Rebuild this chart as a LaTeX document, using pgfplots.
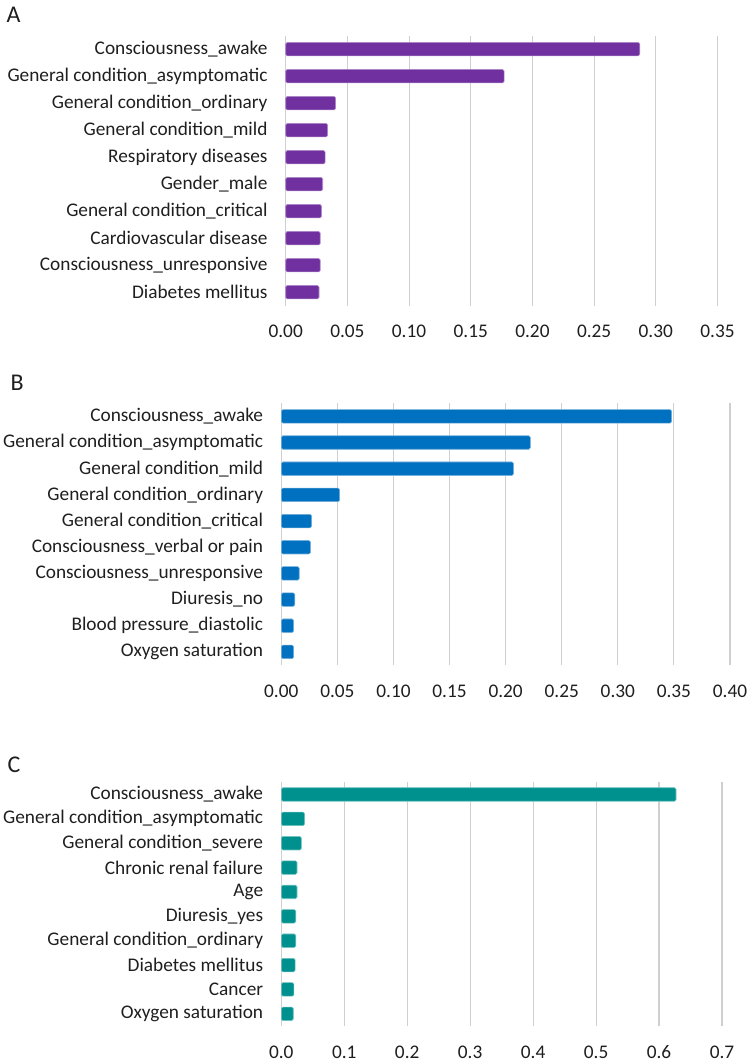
\documentclass[border=0pt]{standalone}
\usepackage{fontspec}
\setmainfont{Carlito}
\usepackage{pgfplots}
\pgfplotsset{compat=1.18}

\definecolor{barA}{HTML}{7030A0}
\definecolor{barB}{HTML}{0070C0}
\definecolor{barC}{HTML}{00918F}
\definecolor{gridc}{HTML}{CFCFCF}

\pgfplotsset{
  imp/.style={
    scale only axis, anchor=south west,
    xbar, bar width=13.5pt,
    ymin=-0.5, ymax=9.5, ytick={0,...,9},
    xmin=0, xmajorgrids, grid style={draw=gridc, line width=1.1pt},
    axis line style={draw=none}, major tick length=0pt,
    tick label style={font=\fontsize{19.3}{23}\selectfont, text=black!88},
    yticklabel style={anchor=east, inner sep=0pt, xshift=-18pt},
    xticklabel style={anchor=center, inner sep=0pt, yshift=-26pt},
    /pgf/number format/assume math mode=true,
    /pgf/number format/fixed, /pgf/number format/fixed zerofill,
    clip=false,
  }
}

\begin{document}
\begin{tikzpicture}
\useasboundingbox (0,0) rectangle (749pt,1062pt);

% A
\begin{axis}[imp, at={(285.7pt,756.3pt)}, width=431.8pt, height=270pt,
  xmax=0.35, xtick={0,0.05,0.10,0.15,0.20,0.25,0.30,0.35},
  /pgf/number format/precision=2,
  yticklabels={Diabetes mellitus, Consciousness\_unresponsive, Cardiovascular disease,
    General condition\_critical, Gender\_male, Respiratory diseases,
    General condition\_mild, General condition\_ordinary,
    General condition\_asymptomatic\hspace{5pt}, Consciousness\_awake}]
\addplot[fill=barA, draw=barA!55!white, line width=0.6pt, rounded corners=1.5pt]
  coordinates {(0.027,0) (0.028,1) (0.028,2) (0.029,3) (0.030,4) (0.032,5)
               (0.034,6) (0.0405,7) (0.177,8) (0.287,9)};
\end{axis}

% B
\begin{axis}[imp, at={(281.3pt,397pt)}, width=448.7pt, height=261.7pt,
  xmax=0.40, xtick={0,0.05,0.10,0.15,0.20,0.25,0.30,0.35,0.40},
  /pgf/number format/precision=2,
  yticklabels={Oxygen saturation, Blood pressure\_diastolic, Diuresis\_no,
    Consciousness\_unresponsive, Consciousness\_verbal or pain,
    General condition\_critical, General condition\_ordinary,
    General condition\_mild, General condition\_asymptomatic, Consciousness\_awake}]
\addplot[fill=barB, draw=barB!55!white, line width=0.6pt, rounded corners=1.5pt]
  coordinates {(0.011,0) (0.011,1) (0.012,2) (0.016,3) (0.026,4) (0.027,5)
               (0.052,6) (0.207,7) (0.222,8) (0.348,9)};
\end{axis}

% C
\begin{axis}[imp, at={(281.3pt,36pt)}, width=440.7pt, height=243.7pt,
  xmax=0.7, xtick={0,0.1,0.2,0.3,0.4,0.5,0.6,0.7},
  /pgf/number format/precision=1,
  yticklabels={Oxygen saturation, Cancer, Diabetes mellitus,
    General condition\_ordinary, Diuresis\_yes, Age, Chronic renal failure,
    General condition\_severe, General condition\_asymptomatic, Consciousness\_awake}]
\addplot[fill=barC, draw=barC!55!white, line width=0.6pt, rounded corners=1.5pt]
  coordinates {(0.019,0) (0.020,1) (0.022,2) (0.023,3) (0.023,4) (0.025,5)
               (0.025,6) (0.032,7) (0.037,8) (0.627,9)};
\end{axis}

\node[anchor=west, font=\fontsize{24}{28}\selectfont, text=black!88] at (3pt,1047pt) {A};
\node[anchor=west, font=\fontsize{24}{28}\selectfont, text=black!88] at (7pt,679pt) {B};
\node[anchor=west, font=\fontsize{24}{28}\selectfont, text=black!88] at (4pt,297pt) {C};
\end{tikzpicture}
\end{document}
